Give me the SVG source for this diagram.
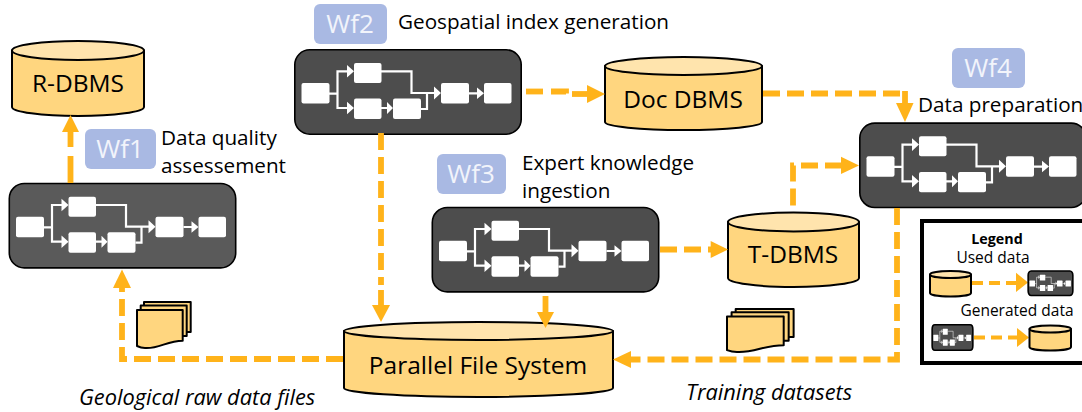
<svg xmlns="http://www.w3.org/2000/svg" xmlns:xlink="http://www.w3.org/1999/xlink" width="1082" height="412" viewBox="0 0 1082 412">
<style>
text{font-family:"Open Sans","Noto Sans","Liberation Sans",sans-serif;fill:#000}
.t{font-size:20.700px}
.c{text-anchor:middle}
.db{font-size:24.500px;text-anchor:middle}
.wf{font-size:26px;fill:#f2f4fb;text-anchor:middle}
.it{font-size:21.800px;font-style:italic}
.tag{fill:#a9b9e3}
.cyl{fill:#ffd67f;stroke:#000;stroke-width:2;stroke-linejoin:round;vector-effect:non-scaling-stroke}
.top{fill:#ffe4ad;stroke:#000;stroke-width:2}
.dash{fill:none;stroke:#ffb31a;stroke-width:5.800;stroke-dasharray:17 7}
.solid{fill:none;stroke:#ffb31a;stroke-width:5.800}
.lg{fill:none;stroke:#ffb31a;stroke-width:4;stroke-dasharray:11 6}
.head{fill:#ffb31a}
.wb{fill:#fff}
.wl{fill:none;stroke:#fff;stroke-width:2.200}
.wa{fill:#fff}
.leg{font-size:15.500px;text-anchor:middle}
</style>
<defs>
<symbol id="flow" viewBox="0 0 228 86" preserveAspectRatio="none" overflow="visible">
<rect x="0.800" y="0.800" width="226.400" height="84.400" rx="15" fill="currentColor" stroke="#000" stroke-width="1.600" vector-effect="non-scaling-stroke"/>
<path class="wl" d="M35 44.600H43.500V22.300H54M43.500 44.600V59H54M87 22.300H117.500V44H141M87 59H94M127 60H133V44M175 44.300H184"/>
<path class="wa" d="M53 16L60 22.300L53 28.600ZM53 52.800L60 59L53 65.200ZM93 53L99 59L93 65ZM140 37.500L147 44L140 50.500ZM183 38.500L190 44.300L183 50Z"/>
<rect class="wb" x="7.500" y="34" width="28" height="20.500" rx="2"/>
<rect class="wb" x="60" y="14" width="27.500" height="20" rx="2"/>
<rect class="wb" x="60" y="49.600" width="27.500" height="20.400" rx="2"/>
<rect class="wb" x="99" y="49.600" width="28" height="20.400" rx="2"/>
<rect class="wb" x="147" y="34" width="28" height="20.500" rx="2"/>
<rect class="wb" x="190" y="34" width="27.500" height="20.500" rx="2"/>
</symbol>
<symbol id="docs" viewBox="0 0 54 46" preserveAspectRatio="none" overflow="visible">
<path class="cyl" d="M7 0H53.700V30H7Z"/>
<path class="cyl" d="M3.700 3.500H49.700V34H3.700Z"/>
<path class="cyl" d="M0 8H45.700V38.700C30 38.700 22 47 8 46C4 46 2 45 0 44Z"/>
</symbol>
</defs>

<g id="r-dbms"><path class="cyl" d="M12 50.500V107A66 9 0 0 0 144 107V50.500Z"/><ellipse class="top" cx="78" cy="50.500" rx="66" ry="9.500"/><text class="db" x="78" y="92">R-DBMS</text></g>
<g id="doc-dbms"><path class="cyl" d="M605 66V122A78.500 8 0 0 0 762 122V66Z"/><ellipse class="top" cx="683.500" cy="66" rx="78.500" ry="9"/><text class="db" x="683" y="108">Doc DBMS</text></g>
<g id="t-dbms"><path class="cyl" d="M728 222V278A65.500 9 0 0 0 859 278V222Z"/><ellipse class="top" cx="793.500" cy="222" rx="65.500" ry="9.500"/><text class="db" x="793" y="263">T-DBMS</text></g>
<g id="pfs"><path class="cyl" d="M344 331V388A134.500 9 0 0 0 613 388V331Z"/><ellipse class="top" cx="478.500" cy="331" rx="134.500" ry="9"/><text class="db" x="478" y="374">Parallel File System</text></g>

<g id="wf1"><use xlink:href="#flow" href="#flow" x="8.500" y="182.700" width="228" height="86" style="color:#5a5a5a"/></g>
<g id="wf2"><use xlink:href="#flow" href="#flow" x="294" y="49" width="228" height="86" style="color:#4d4d4d"/></g>
<g id="wf3"><use xlink:href="#flow" href="#flow" x="431.500" y="206.700" width="228" height="86" style="color:#4d4d4d"/></g>
<g id="wf4"><use xlink:href="#flow" href="#flow" x="859" y="122.300" width="228" height="86" style="color:#4d4d4d"/></g>

<g id="tag1"><rect class="tag" x="85" y="129" width="71" height="40" rx="6"/><text class="wf" x="120" y="158">Wf1</text></g>
<g id="tag2"><rect class="tag" x="314" y="4" width="73" height="40" rx="6"/><text class="wf" x="350" y="33">Wf2</text></g>
<g id="tag3"><rect class="tag" x="437" y="154" width="69" height="40" rx="6"/><text class="wf" x="471" y="183">Wf3</text></g>
<g id="tag4"><rect class="tag" x="952" y="48" width="73" height="40" rx="6"/><text class="wf" x="988" y="77">Wf4</text></g>

<g id="labels">
<text class="t" x="161" y="145">Data quality</text>
<text class="t" x="161" y="173">assessement</text>
<text class="t" x="398" y="29">Geospatial index generation</text>
<text class="t" x="522" y="170">Expert knowledge</text>
<text class="t" x="522" y="198">ingestion</text>
<text class="t" x="918" y="112">Data preparation</text>
<text class="it" x="79" y="405">Geological raw data files</text>
<text class="it" x="686" y="400">Training datasets</text>
</g>

<g id="docs1"><use xlink:href="#docs" href="#docs" x="137" y="302" width="54" height="46"/></g>
<g id="docs2"><use xlink:href="#docs" href="#docs" x="727" y="309" width="67" height="43"/></g>

<g id="legend">
<rect x="922" y="221" width="170" height="142" fill="#fff" stroke="#000" stroke-width="4"/>
<text class="leg" x="997" y="244" style="font-size:14.300px;font-weight:700">Legend</text>
<text class="leg" x="993" y="263">Used data</text>
<text class="leg" x="1017" y="316">Generated data</text>
<path class="cyl" d="M930 274.500V293A20.500 3.500 0 0 0 971 293V274.500Z"/><ellipse class="top" cx="950.500" cy="274.500" rx="20.500" ry="3.500"/>
<path class="lg" d="M972 283H1017"/><path class="head" d="M1016 272.700L1028 282.500L1016 292Z"/>
<use xlink:href="#flow" href="#flow" x="1028" y="270.700" width="45" height="25" style="color:#4d4d4d"/>
<use xlink:href="#flow" href="#flow" x="932" y="324.500" width="41" height="26" style="color:#4d4d4d"/>
<path class="lg" d="M974 337.500H1018"/><path class="head" d="M1017 328L1029 337.500L1017 347Z"/>
<path class="cyl" d="M1029.500 329V347A20.500 3.500 0 0 0 1071 347V329Z"/><ellipse class="top" cx="1050.300" cy="329" rx="20.700" ry="3.500"/>
</g>

<g id="connectors">
<path class="dash" d="M70.500 183V173M70.500 173V153"/><path class="solid" d="M70.500 147V131"/><path class="head" d="M62 132L70.500 115L79 132Z"/>
<path class="dash" d="M343 359H122V288"/><path class="head" d="M113 288L122 269.500L131 288Z"/>
<path class="dash" d="M526 91.500H548"/><path class="dash" d="M551 91.500H566V94"/><path class="solid" d="M572 94H588"/><path class="head" d="M587 85L605 94L587 103Z"/>
<path class="dash" d="M381 133V285"/><path class="solid" d="M381 290V306"/><path class="head" d="M372 305H390L381 322Z"/>
<path class="dash" d="M763 93.500H905"/><path class="solid" d="M905 91V104"/><path class="head" d="M896 103H913.500L905 122Z"/>
<path class="dash" d="M660 249.500H711"/><path class="head" d="M710.700 241L728 249.500L710.700 258Z"/>
<path class="dash" d="M842 165.500H793V212"/><path class="head" d="M841 156.700L859 165.500L841 174Z"/>
<path class="solid" d="M545.500 296V313"/><path class="head" d="M537 312H554L545.500 328Z"/>
<path class="dash" d="M897 208V359.500H631"/><path class="head" d="M631 351L613 359.500L631 368Z"/>
</g>
</svg>
